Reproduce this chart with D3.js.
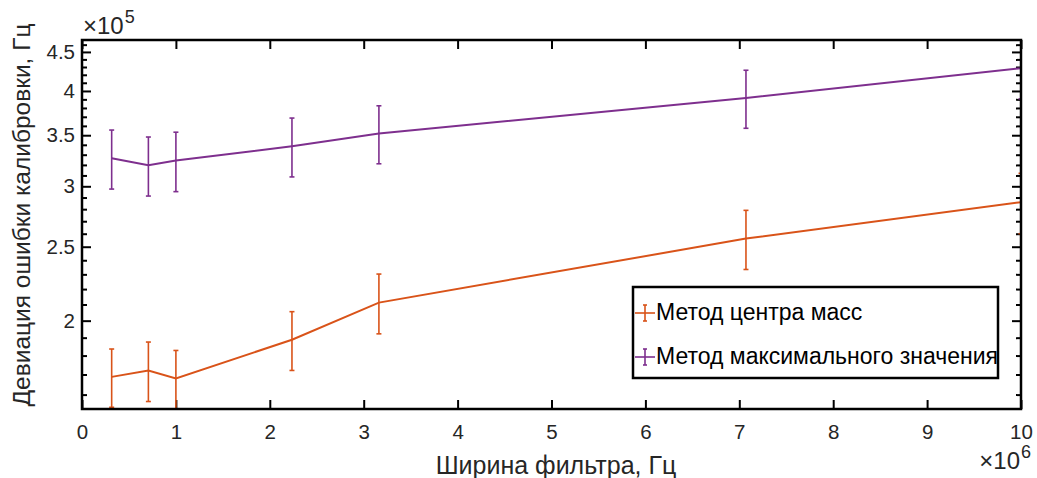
<!DOCTYPE html>
<html>
<head>
<meta charset="utf-8">
<script src="https://cdn.jsdelivr.net/npm/d3@7"></script>
<style>
	body { margin: 0; background: #ffffff; }
	svg { font-family: 'Liberation Sans', Arial, sans-serif; }
	.chart-axis path, .chart-axis line { stroke: #000000; }
</style>
</head>
<body>
<svg id="chart" width="1037" height="478"></svg>
<script>

// Filter width, Hz (x 1e6)
var aFilterWidth = [0.316, 0.707, 1.0, 2.236, 3.162, 7.071, 10.0];

// Centre of mass method (x 1e5 Hz)
var aCentreMean = [1.688, 1.721, 1.680, 1.888, 2.112, 2.562, 2.860];
var aCentreErr  = [0.148, 0.154, 0.148, 0.167, 0.190, 0.228, 0.260];

// Maximum value method (x 1e5 Hz)
var aMaxMean = [3.265, 3.197, 3.242, 3.386, 3.518, 3.916, 4.285];
var aMaxErr  = [0.290, 0.284, 0.290, 0.300, 0.307, 0.342, 0.380];

var aXTicks = [0, 1, 2, 3, 4, 5, 6, 7, 8, 9, 10];
var aYTicks = [2, 2.5, 3, 3.5, 4, 4.5];
var aYMinorTicks = [1.6, 1.7, 1.8, 1.9, 2.1, 2.2, 2.3, 2.4, 2.6, 2.7, 2.8, 2.9,
	3.1, 3.2, 3.3, 3.4, 3.6, 3.7, 3.8, 3.9, 4.1, 4.2, 4.3, 4.4, 4.6];

var aSeries = [
	{ 'label': 'Метод центра масс', 'mean': aCentreMean, 'err': aCentreErr, 'color': '#d95319' },
	{ 'label': 'Метод максимального значения', 'mean': aMaxMean, 'err': aMaxErr, 'color': '#7e2f8e' }
];

var sSvg = d3.select('#chart');

var nSvgWidth = 1037;
var nSvgHeight = 478;

var nBorderTop = 40;
var nBorderLeft = 82;
var nBorderRight = 16;
var nBorderBottom = 69;

var nChartWidth = nSvgWidth - nBorderLeft - nBorderRight;
var nChartHeight = nSvgHeight - nBorderTop - nBorderBottom;

// tight y limits, like the original
var fMin = d3.min(aSeries, function(s) { return d3.min(s.mean, function(v, i) { return v - s.err[i]; }); });
var fMax = d3.max(aSeries, function(s) { return d3.max(s.mean, function(v, i) { return v + s.err[i]; }); });

var scaleX = d3.scaleLinear()
	.domain([0, 10])
	.range([0, nChartWidth]);

var scaleY = d3.scaleLog()
	.domain([fMin, fMax])
	.range([nChartHeight, 0]);

var sChart = sSvg.append('g')
	.attr('transform', 'translate(' + nBorderLeft + ',' + nBorderTop + ')');

sChart.append('clipPath')
	.attr('id', 'plot-clip')
	.append('rect')
		.attr('x', 0)
		.attr('y', -1)
		.attr('width', nChartWidth)
		.attr('height', nChartHeight + 2);

// Axes (ticks inside, box on)
var nMajor = 9;
var nMinor = 5;

function StyleAxis(sAxis)
{
	sAxis.select('.domain').remove();
	sAxis.selectAll('line').attr('stroke-width', 2);
	sAxis.selectAll('text')
		.attr('fill', '#262626')
		.style('font-size', '20.5px');
}

var sAxisX = sChart.append('g')
	.attr('class', 'chart-axis')
	.attr('transform', 'translate(0,' + nChartHeight + ')')
	.call(d3.axisBottom(scaleX).tickValues(aXTicks).tickSize(-nMajor).tickPadding(15)
		.tickFormat(d3.format('d')));
StyleAxis(sAxisX);

var sAxisXTop = sChart.append('g')
	.attr('class', 'chart-axis')
	.call(d3.axisTop(scaleX).tickValues(aXTicks).tickSize(-nMajor).tickFormat(''));
StyleAxis(sAxisXTop);

var sAxisY = sChart.append('g')
	.attr('class', 'chart-axis')
	.call(d3.axisLeft(scaleY).tickValues(aYTicks).tickSize(-nMajor).tickPadding(7)
		.tickFormat(function(f) { return d3.format('')(f); }));
StyleAxis(sAxisY);

var sAxisYMinor = sChart.append('g')
	.attr('class', 'chart-axis')
	.call(d3.axisLeft(scaleY).tickValues(aYMinorTicks).tickSize(-nMinor).tickFormat(''));
StyleAxis(sAxisYMinor);

var sAxisYRight = sChart.append('g')
	.attr('class', 'chart-axis')
	.attr('transform', 'translate(' + nChartWidth + ',0)')
	.call(d3.axisRight(scaleY).tickValues(aYTicks).tickSize(-nMajor).tickFormat(''));
StyleAxis(sAxisYRight);

var sAxisYRightMinor = sChart.append('g')
	.attr('class', 'chart-axis')
	.attr('transform', 'translate(' + nChartWidth + ',0)')
	.call(d3.axisRight(scaleY).tickValues(aYMinorTicks).tickSize(-nMinor).tickFormat(''));
StyleAxis(sAxisYRightMinor);

// Series
var sPlot = sChart.append('g').attr('clip-path', 'url(#plot-clip)');
var nCap = 2.5;

aSeries.forEach(function(series)
{
	var line = d3.line()
		.x(function(v, i) { return scaleX(aFilterWidth[i]); })
		.y(function(v) { return scaleY(v); });

	sPlot.append('path')
		.datum(series.mean)
		.attr('d', line)
		.attr('fill', 'none')
		.attr('stroke', series.color)
		.attr('stroke-width', 2);

	for (var nIndex = 0; nIndex < series.mean.length; nIndex++)
	{
		var fX = scaleX(aFilterWidth[nIndex]);
		var fTop = scaleY(series.mean[nIndex] + series.err[nIndex]);
		var fBottom = scaleY(series.mean[nIndex] - series.err[nIndex]);
		var sBar = sPlot.append('g')
			.attr('stroke', series.color)
			.attr('stroke-width', 1.6);
		sBar.append('line').attr('x1', fX).attr('x2', fX).attr('y1', fTop).attr('y2', fBottom);
		sBar.append('line').attr('x1', fX - nCap).attr('x2', fX + nCap).attr('y1', fTop).attr('y2', fTop);
		sBar.append('line').attr('x1', fX - nCap).attr('x2', fX + nCap).attr('y1', fBottom).attr('y2', fBottom);
	}
});

// Box
sChart.append('rect')
	.attr('x', 0)
	.attr('y', 0)
	.attr('width', nChartWidth)
	.attr('height', nChartHeight)
	.attr('fill', 'none')
	.attr('stroke', '#000000')
	.attr('stroke-width', 2.5);

// Exponent labels
var sExpY = sSvg.append('text')
	.attr('x', nBorderLeft + 1)
	.attr('y', 34)
	.attr('fill', '#262626')
	.style('font-size', '24px');
sExpY.append('tspan').text('×10');
sExpY.append('tspan').attr('dy', -11).attr('dx', 1).style('font-size', '18px').text('5');

var sExpX = sSvg.append('text')
	.attr('x', 1031)
	.attr('y', 469)
	.attr('text-anchor', 'end')
	.attr('fill', '#262626')
	.style('font-size', '24px');
sExpX.append('tspan').text('×10');
sExpX.append('tspan').attr('dy', -11).attr('dx', 1).style('font-size', '18px').text('6');

// Axis titles
sSvg.append('text')
	.attr('x', 556)
	.attr('y', 474)
	.attr('text-anchor', 'middle')
	.attr('fill', '#262626')
	.style('font-size', '25px')
	.text('Ширина фильтра, Гц');

sSvg.append('text')
	.attr('transform', 'translate(30,215) rotate(-90)')
	.attr('text-anchor', 'middle')
	.attr('fill', '#262626')
	.style('font-size', '24.5px')
	.text('Девиация ошибки калибровки, Гц');

// Legend
var nLegendX = 633;
var nLegendY = 287;
var nLegendW = 365;
var nLegendH = 91;

var sLegend = sSvg.append('g')
	.attr('transform', 'translate(' + nLegendX + ',' + nLegendY + ')');

sLegend.append('rect')
	.attr('width', nLegendW)
	.attr('height', nLegendH)
	.attr('fill', '#ffffff')
	.attr('stroke', '#000000')
	.attr('stroke-width', 2.5);

aSeries.forEach(function(series, nRow)
{
	var fY = 26 + nRow * 44;
	var sItem = sLegend.append('g')
		.attr('stroke', series.color)
		.attr('stroke-width', 1.6);
	sItem.append('line').attr('x1', 2).attr('x2', 22).attr('y1', fY).attr('y2', fY);
	sItem.append('line').attr('x1', 12).attr('x2', 12).attr('y1', fY - 8).attr('y2', fY + 8);
	sItem.append('line').attr('x1', 10).attr('x2', 14).attr('y1', fY - 8).attr('y2', fY - 8);
	sItem.append('line').attr('x1', 10).attr('x2', 14).attr('y1', fY + 8).attr('y2', fY + 8);

	sLegend.append('text')
		.attr('x', 23)
		.attr('y', fY + 7)
		.attr('fill', '#000000')
		.style('font-size', '23px')
		.text(series.label);
});

</script>
</body>
</html>
